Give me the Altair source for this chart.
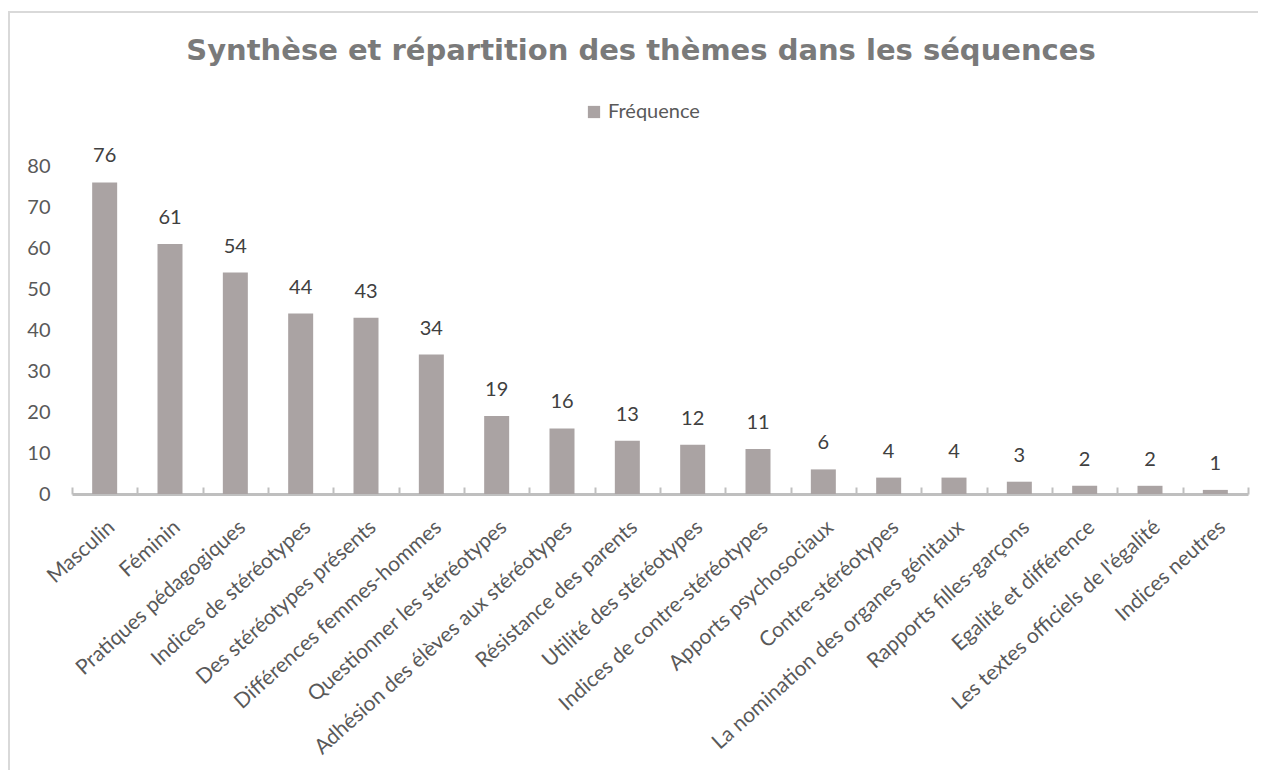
import altair as alt
import pandas as pd

categories = [
    "Masculin", "Féminin", "Pratiques pédagogiques", "Indices de stéréotypes",
    "Des stéréotypes présents", "Différences femmes-hommes",
    "Questionner les stéréotypes", "Adhésion des élèves aux stéréotypes",
    "Résistance des parents", "Utilité des stéréotypes",
    "Indices de contre-stéréotypes", "Apports psychosociaux",
    "Contre-stéréotypes", "La nomination des organes génitaux",
    "Rapports filles-garçons", "Egalité et différence",
    "Les textes officiels de l'égalité", "Indices neutres",
]
values = [76, 61, 54, 44, 43, 34, 19, 16, 13, 12, 11, 6, 4, 4, 3, 2, 2, 1]
series = ["Fréquence"] * len(categories)
y_ticks = [0, 10, 20, 30, 40, 50, 60, 70, 80]
title_text = "Synthèse et répartition des thèmes dans les séquences"

df = pd.DataFrame({"cat": categories, "v": values, "series": series})

W, H = 1176, 328
PL, PT = 64, 158
PR = 10
PB = 762 - H - PT

BAR = "#aaa3a3"
LAB = "#595959"
FONT = "Lato"

xscale = alt.Scale(paddingInner=0, paddingOuter=0)

base = alt.Chart(df)

bars = base.mark_bar(size=25, color=BAR).encode(
    x=alt.X("cat:N", sort=categories, scale=xscale,
            axis=alt.Axis(title=None, labelAngle=-42, labelFont=FONT,
                          labelFontSize=21, labelColor=LAB, ticks=False,
                          domainColor="#bfbfbf", domainWidth=3,
                          labelPadding=22, labelLimit=0)),
    y=alt.Y("v:Q", scale=alt.Scale(domain=[0, 80], nice=False),
            axis=alt.Axis(title=None, values=y_ticks, grid=False, domain=False,
                          ticks=False, labelFont=FONT, labelFontSize=20,
                          labelColor=LAB, labelPadding=22)),
    color=alt.Color("series:N",
                    scale=alt.Scale(domain=["Fréquence"], range=[BAR]),
                    legend=alt.Legend(title=None, orient="none", legendX=512,
                                      legendY=-64, symbolType="square",
                                      symbolSize=150, symbolStrokeWidth=0,
                                      labelFont=FONT, labelFontSize=20,
                                      labelColor=LAB)),
)

labels = base.mark_text(dy=-20, fontSize=20, font=FONT, color="#404040",
                        baseline="alphabetic").encode(
    x=alt.X("cat:N", sort=categories, scale=xscale,
            axis=alt.Axis(title=None, orient="top", offset=-H, labels=False,
                          domain=False, ticks=True, tickBand="extent",
                          tickSize=7, tickWidth=2, tickColor="#bfbfbf")),
    y=alt.Y("v:Q"),
    text=alt.Text("v:Q"),
)

frame_df = pd.DataFrame({"k": [0]})
frame = alt.Chart(frame_df).mark_rect(
    fill=None, stroke="#d9d9d9", strokeWidth=2
).encode(
    x=alt.value(-63), x2=alt.value(W + PR + 40),
    y=alt.value(-154), y2=alt.value(H + PB + 40),
)

title = alt.Chart(frame_df).mark_text(
    text=title_text, font="DejaVu Sans", fontSize=29, fontWeight="bold",
    color="#7a7a7a", align="center", baseline="alphabetic",
).encode(x=alt.value(569), y=alt.value(-106))

chart = alt.layer(frame, title, bars, labels).resolve_axis(
    x="independent"
).properties(
    width=W, height=H,
    padding={"left": PL, "top": PT, "right": PR, "bottom": PB},
    autosize=alt.AutoSizeParams(type="none"),
).configure_view(stroke=None)

chart.save("out.html", embed_options={"renderer": "svg", "actions": False})
